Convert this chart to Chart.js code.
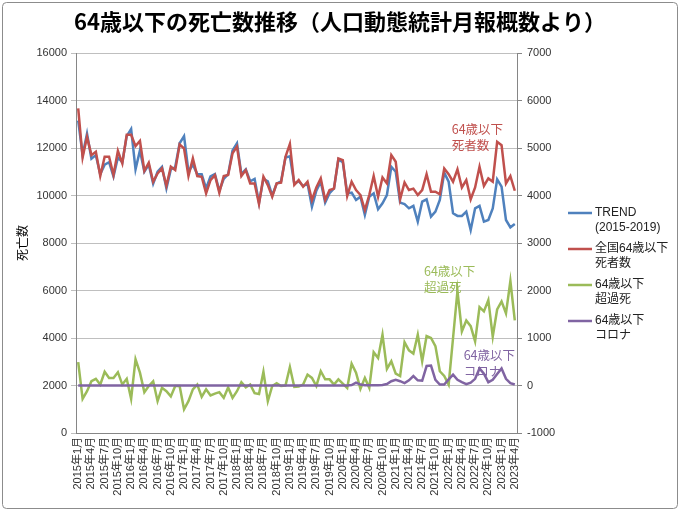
<!DOCTYPE html>
<html>
<head>
<meta charset="utf-8">
<script src="https://cdn.jsdelivr.net/npm/chart.js@4/dist/chart.umd.min.js"></script>
<style>
  html, body { margin: 0; padding: 0; background: #fff; }
  canvas { display: block; }
</style>
</head>
<body>
<canvas id="deathChart" width="680" height="511"></canvas>
<script>
// 2015年1月 ～ 2023年4月 (100か月)
const startYear = 2015;
const monthCount = 100;
const monthLabels = [];
for (let i = 0; i < monthCount; i++) {
  monthLabels.push((startYear + Math.floor(i / 12)) + "年" + ((i % 12) + 1) + "月");
}

// 左軸: 死亡数
const trendValues = [
  13150, 11700, 12600, 11550, 11700, 10900, 11300, 11400, 10800, 11600, 11400, 12500,
  12800, 11100, 11900, 11000, 11300, 10500, 11000, 11200, 10300, 11100, 11200, 12200,
  12500, 11000, 11300, 10900, 10900, 10300, 10800, 10900, 10200, 10700, 10900, 11900,
  12200, 10900, 11100, 10600, 10700, 9700, 10700, 10600, 10000, 10500, 10600, 11600,
  11650, 10500, 10600, 10400, 10500, 9530, 10200, 10580, 9700, 10100, 10300, 11520,
  11400, 10090, 10120, 9810, 9950, 9180, 9950, 10090, 9420, 9670, 10020, 11210,
  11000, 9700, 9640, 9460, 9560, 8900, 9740, 9840, 9110, 9320, 9810, 10960,
  10580, 9250, 9140, 9140, 9320, 8550, 9460, 9560, 8900, 8970, 9460, 10680,
  10370, 8970, 8660, 8800
];
const deathValues = [
  13670, 11600, 12470, 11700, 11840, 10820, 11630, 11630, 10860, 11880, 11350, 12560,
  12560, 12080, 12300, 11040, 11380, 10580, 10930, 11140, 10410, 11210, 11070, 12150,
  11980, 10820, 11560, 10820, 10790, 10090, 10650, 10860, 10120, 10820, 10860, 11780,
  12060, 10820, 11070, 10510, 10510, 9640, 10790, 10440, 9950, 10510, 10540, 11630,
  12170, 10450, 10650, 10370, 10580, 9810, 10340, 10720, 9810, 10230, 10290, 11560,
  11490, 9980, 10580, 10230, 10020, 9390, 10020, 10820, 9950, 10760, 10510, 11700,
  11420, 9840, 10550, 10230, 10290, 10020, 10230, 10900, 10160, 10160, 10050, 11140,
  10900, 10580, 11100, 10340, 10650, 9840, 10340, 11210, 10400, 10720, 10580, 12260,
  12120, 10510, 10820, 10200
];

// 右軸: 超過死 / コロナ
const excessValues = [
  490, -280, -120, 90, 140, 20, 290, 160, 160, 280, 20, 140,
  -280, 550, 270, -140, -10, 90, -330, -50, -120, -230, -10, -10,
  -500, -330, -80, 20, -240, -80, -210, -170, -140, -260, -40, -260,
  -120, 70, -40, 20, -160, -180, 290, -330, -10, 50, -10, 0,
  390, -30, -20, 20, 230, 160, -10, 300, 130, 130, 20, 130,
  40, -50, 460, 270, -70, 160, -50, 700, 580, 1070, 350, 510,
  250, 200, 910, 740, 670, 1070, 510, 1040, 1000, 830, 300, 200,
  20, 1000, 1990, 1140, 1370, 1250, 930, 1650, 1560, 1800, 1030, 1600,
  1770, 1520, 2200, 1370
];
const covidValues = [
  0, 0, 0, 0, 0, 0, 0, 0, 0, 0, 0, 0,
  0, 0, 0, 0, 0, 0, 0, 0, 0, 0, 0, 0,
  0, 0, 0, 0, 0, 0, 0, 0, 0, 0, 0, 0,
  0, 0, 0, 0, 0, 0, 0, 0, 0, 0, 0, 0,
  0, 0, 0, 0, 0, 0, 0, 0, 0, 0, 0, 0,
  0, 0, 10, 60, 20, 5, 5, 5, 5, 10, 30, 90,
  120, 90, 50, 110, 200, 110, 100, 410, 420, 120, 20, 20,
  130, 230, 120, 70, 30, 60, 140, 360, 250, 70, 120, 240,
  360, 140, 50, 20
];

const seriesNames = [
  ["TREND", "(2015-2019)"],
  ["全国64歳以下", "死者数"],
  ["64歳以下", "超過死"],
  ["64歳以下", "コロナ"]
];
const seriesColors = ["#4F81BD", "#C0504D", "#9BBB59", "#8064A2"];

const titleText = "64歳以下の死亡数推移（人口動態統計月報概数より）";
const yTitleText = "死亡数";
const FONT = "'Liberation Sans', 'Noto Sans CJK JP', sans-serif";
const JFONT = "'Noto Sans CJK JP', sans-serif";

const decorPlugin = {
  id: "decor",
  beforeDraw(chart) {
    const ctx = chart.ctx;
    ctx.save();
    ctx.fillStyle = "#fff";
    ctx.fillRect(0, 0, chart.width, chart.height);
    ctx.strokeStyle = "#8c8c8c";
    ctx.lineWidth = 1;
    ctx.beginPath();
    ctx.roundRect(2.5, 2.5, chart.width - 5, chart.height - 5, 4);
    ctx.stroke();
    ctx.restore();
  },
  afterDraw(chart) {
    const ctx = chart.ctx;
    const xs = chart.scales.x;
    const ys = chart.scales.y;
    const y2 = chart.scales.y2;
    ctx.save();

    // タイトル
    ctx.fillStyle = "#000";
    ctx.font = "bold 22px " + JFONT;
    ctx.textAlign = "center";
    ctx.textBaseline = "middle";
    ctx.fillText(titleText, chart.width / 2, 22);

    // 縦軸タイトル
    ctx.save();
    ctx.translate(22, (chart.chartArea.top + chart.chartArea.bottom) / 2);
    ctx.rotate(-Math.PI / 2);
    ctx.font = "12px " + JFONT;
    ctx.fillText(yTitleText, 0, 0);
    ctx.restore();

    // 凡例
    const legX = chart.chartArea.right + 51;
    const legTop = 213;
    ctx.textAlign = "left";
    ctx.font = "12px " + FONT;
    seriesNames.forEach((lines, k) => {
      const y = legTop + k * 36;
      ctx.strokeStyle = seriesColors[k];
      ctx.lineWidth = 2.5;
      ctx.beginPath();
      ctx.moveTo(legX, y);
      ctx.lineTo(legX + 24, y);
      ctx.stroke();
      ctx.fillStyle = "#222";
      lines.forEach((t, j) => ctx.fillText(t, legX + 27, y + j * 14.5));
    });

    // 系列ラベル
    ctx.font = "12.5px " + JFONT;
    const tag = (lines, color, idx, py) => {
      ctx.fillStyle = color;
      lines.forEach((t, j) => ctx.fillText(t, xs.getPixelForValue(idx), py + j * 16));
    };
    tag(["64歳以下", "死者数"], seriesColors[1], 84.7, ys.getPixelForValue(12780));
    tag(["64歳以下", "超過死"], seriesColors[2], 78.4, y2.getPixelForValue(2400));
    tag(["64歳以下", "コロナ"], seriesColors[3], 87.4, y2.getPixelForValue(630));

    ctx.restore();
  }
};

function makeLine(label, data, color, axis, order) {
  return {
    label: label,
    data: data,
    borderColor: color,
    backgroundColor: color,
    borderWidth: 2.5,
    pointRadius: 0,
    tension: 0,
    fill: false,
    yAxisID: axis,
    order: order
  };
}

const plainNumber = (v) => String(v);

new Chart(document.getElementById("deathChart").getContext("2d"), {
  type: "line",
  data: {
    labels: monthLabels,
    datasets: [
      makeLine(seriesNames[0].join(" "), trendValues, seriesColors[0], "y", 4),
      makeLine(seriesNames[1].join(""), deathValues, seriesColors[1], "y", 3),
      makeLine(seriesNames[2].join(""), excessValues, seriesColors[2], "y2", 2),
      makeLine(seriesNames[3].join(""), covidValues, seriesColors[3], "y2", 1)
    ]
  },
  options: {
    responsive: false,
    animation: false,
    devicePixelRatio: 1,
    layout: { padding: { top: 53, right: 103, bottom: 0, left: 0 } },
    plugins: {
      legend: { display: false },
      title: { display: false },
      tooltip: { enabled: false }
    },
    scales: {
      x: {
        offset: true,
        grid: { display: false, drawTicks: false },
        border: { color: "#868686" },
        ticks: {
          autoSkip: false,
          minRotation: 90,
          maxRotation: 90,
          padding: 4,
          color: "#333",
          font: { family: FONT, size: 11 },
          callback: (v, i) => (i % 3 === 0 ? monthLabels[i] : "")
        },
        afterFit: (s) => { s.height = 78; }
      },
      y: {
        position: "left",
        min: 0,
        max: 16000,
        ticks: { stepSize: 2000, padding: 4, color: "#333", font: { family: FONT, size: 11 }, callback: plainNumber },
        grid: { color: "#BFBFBF", tickLength: 5 },
        border: { color: "#868686" },
        afterFit: (s) => { s.width = 76; }
      },
      y2: {
        position: "right",
        min: -1000,
        max: 7000,
        ticks: { stepSize: 1000, padding: 5, color: "#333", font: { family: FONT, size: 11 }, callback: plainNumber },
        grid: { drawOnChartArea: false, color: "#868686", tickLength: 5 },
        border: { color: "#868686" },
        afterFit: (s) => { s.width = 60; }
      }
    }
  },
  plugins: [decorPlugin]
});
</script>
</body>
</html>
